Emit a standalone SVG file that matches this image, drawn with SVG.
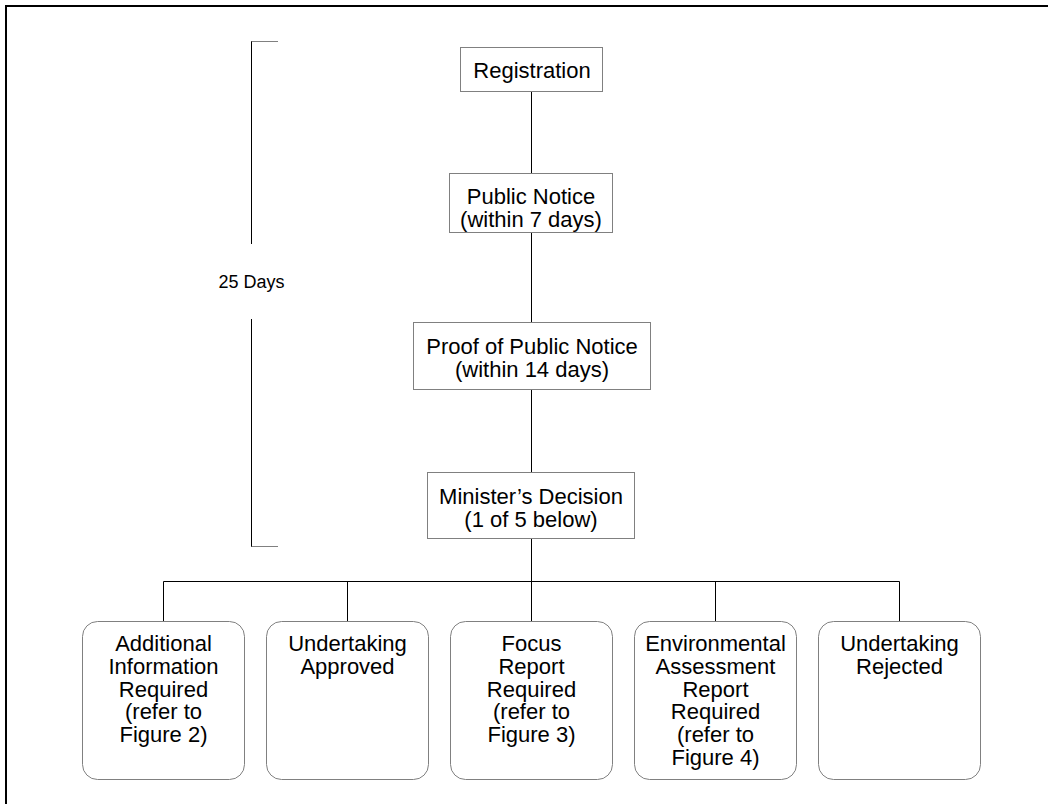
<svg xmlns="http://www.w3.org/2000/svg" width="1048" height="804" viewBox="0 0 1048 804">
  <style>
    .frame { fill: none; stroke: #000; stroke-width: 2; }
    .box { fill: #fff; stroke: #808080; stroke-width: 1; }
    .wire { fill: none; stroke: #000; stroke-width: 1; }
    .tick { fill: none; stroke: #808080; stroke-width: 1.2; }
    text { font-family: "Liberation Sans", Arial, sans-serif; font-size: 22px; fill: #000; text-anchor: middle; }
    .small { font-size: 18px; }
  </style>

  <rect width="1048" height="804" fill="#fff"/>
  <path class="frame" d="M6,804 V6 H1048"/>

  <!-- duration bracket -->
  <g id="bracket">
    <path class="wire" d="M251.5,41 V244 M251.5,319 V547"/>
    <path class="tick" d="M251.5,41.5 H278 M251.5,546.5 H278"/>
    <text class="small" x="251.5" y="288">25 Days</text>
  </g>

  <!-- connectors -->
  <g id="connectors">
    <path class="wire" d="M531.5,92 V173 M531.5,233 V322 M531.5,390 V472 M531.5,539 V581.5"/>
    <path class="wire" d="M163.5,581.5 H899.5"/>
    <path class="wire" d="M163.5,581.5 V621.5 M347.5,581.5 V621.5 M531.5,581.5 V621.5 M715.5,581.5 V621.5 M899.5,581.5 V621.5"/>
  </g>

  <g id="registration">
    <rect class="box" x="460.5" y="47.5" width="142" height="44"/>
    <text x="532" y="78">Registration</text>
  </g>

  <g id="public-notice">
    <rect class="box" x="449.5" y="173.5" width="163" height="59"/>
    <text x="531" y="203.5">Public Notice</text>
    <text x="531" y="226.5">(within 7 days)</text>
  </g>

  <g id="proof-of-notice">
    <rect class="box" x="413.5" y="322.5" width="237" height="67"/>
    <text x="532" y="354">Proof of Public Notice</text>
    <text x="532" y="377">(within 14 days)</text>
  </g>

  <g id="ministers-decision">
    <rect class="box" x="427.5" y="472.5" width="207" height="66"/>
    <text x="531" y="504">Minister’s Decision</text>
    <text x="531" y="527">(1 of 5 below)</text>
  </g>

  <g id="additional-information">
    <rect class="box" x="82.5" y="621.5" width="162" height="158" rx="15"/>
    <text x="163.5" y="651">Additional</text>
    <text x="163.5" y="674">Information</text>
    <text x="163.5" y="696.5">Required</text>
    <text x="163.5" y="719">(refer to</text>
    <text x="163.5" y="742">Figure 2)</text>
  </g>

  <g id="undertaking-approved">
    <rect class="box" x="266.5" y="621.5" width="162" height="158" rx="15"/>
    <text x="347.5" y="651">Undertaking</text>
    <text x="347.5" y="674">Approved</text>
  </g>

  <g id="focus-report">
    <rect class="box" x="450.5" y="621.5" width="162" height="158" rx="15"/>
    <text x="531.5" y="651">Focus</text>
    <text x="531.5" y="674">Report</text>
    <text x="531.5" y="696.5">Required</text>
    <text x="531.5" y="719">(refer to</text>
    <text x="531.5" y="742">Figure 3)</text>
  </g>

  <g id="environmental-assessment">
    <rect class="box" x="634.5" y="621.5" width="162" height="158" rx="15"/>
    <text x="715.5" y="651">Environmental</text>
    <text x="715.5" y="674">Assessment</text>
    <text x="715.5" y="696.5">Report</text>
    <text x="715.5" y="719">Required</text>
    <text x="715.5" y="742">(refer to</text>
    <text x="715.5" y="765">Figure 4)</text>
  </g>

  <g id="undertaking-rejected">
    <rect class="box" x="818.5" y="621.5" width="162" height="158" rx="15"/>
    <text x="899.5" y="651">Undertaking</text>
    <text x="899.5" y="674">Rejected</text>
  </g>
</svg>
